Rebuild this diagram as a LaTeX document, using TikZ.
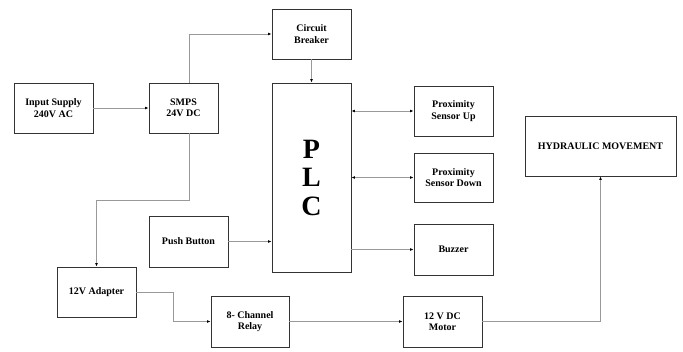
\documentclass[tikz,border=0pt]{standalone}
\usepackage{fontspec}
\setmainfont{Liberation Serif}
\usetikzlibrary{arrows.meta}
\begin{document}
\begin{tikzpicture}[x=1pt,y=-1pt,
    blk/.style={draw=black!80,line width=0.8pt,align=center,inner sep=1pt,
      font=\bfseries\fontsize{10}{11.5}\selectfont},
    wire/.style={draw=black!40,line width=0.7pt},
    >={Latex[length=3.5pt,width=2.8pt,color=black]}]
    \useasboundingbox (0,0) rectangle (683,351);
    % blocks
    \node[blk,minimum width=79pt,minimum height=50pt] (inp) at (53.5,108) {Input Supply\\240V AC};
    \node[blk,minimum width=69pt,minimum height=50pt] (smps) at (183.5,108) {SMPS\\24V DC};
    \node[blk,minimum width=79pt,minimum height=50pt] (cb) at (311.5,34) {Circuit\\Breaker};
    \node[blk,minimum width=79pt,minimum height=189pt,
      font=\bfseries\fontsize{28}{28.5}\selectfont] (plc) at (311.5,177.5) {P\\L\\C};
    \node[blk,minimum width=79pt,minimum height=50pt] (psu) at (453.5,111) {Proximity\\Sensor Up};
    \node[blk,minimum width=79pt,minimum height=49pt] (psd) at (453.5,177.5) {Proximity\\Sensor Down};
    \node[blk,minimum width=79pt,minimum height=51pt] (buz) at (453.5,249.5) {Buzzer};
    \node[blk,minimum width=151pt,minimum height=60pt] (hyd) at (600.5,146) {HYDRAULIC MOVEMENT};
    \node[blk,minimum width=79pt,minimum height=51pt] (push) at (188.5,241.5) {Push Button};
    \node[blk,minimum width=79pt,minimum height=50pt] (adp) at (96.5,292) {12V Adapter};
    \node[blk,minimum width=78pt,minimum height=51pt] (rel) at (250,321.5) {8- Channel\\Relay};
    \node[blk,minimum width=79pt,minimum height=51pt] (mot) at (442.5,321.5) {12 V DC\\Motor};

    % connections
    \draw[wire,->] (inp) -- (smps);
    \draw[wire,->] ([xshift=5.5pt]smps.north) |- (cb.west);
    \draw[wire,->] (cb) -- (plc);
    \draw[wire,->] ([xshift=5.5pt]smps.south) -- ++(0,67) -| (adp.north);
    \draw[wire,->] (push) -- (push -| plc.west);
    \draw[wire,<->] (psu -| plc.east) -- (psu.west);
    \draw[wire,<->] (psd -| plc.east) -- (psd.west);
    \draw[wire,->] (buz -| plc.east) -- (buz.west);
    \draw[wire,->] (adp.east) -- ++(37,0) |- (rel.west);
    \draw[wire,->] (rel) -- (mot);
    \draw[wire,->] (mot.east) -| (hyd.south);
\end{tikzpicture}
\end{document}
